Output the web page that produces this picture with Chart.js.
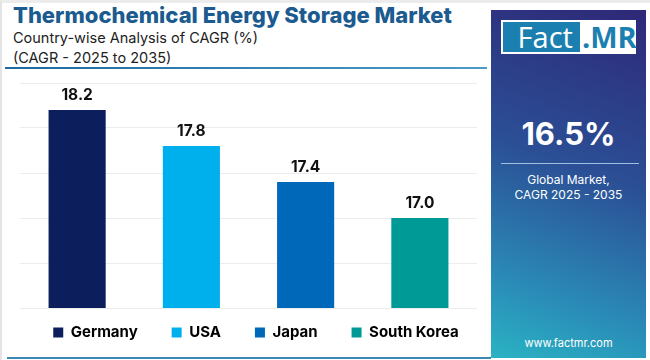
<!DOCTYPE html>
<html>
<head>
<meta charset="utf-8">
<script src="https://cdn.jsdelivr.net/npm/chart.js@4"></script>
<style>
  html, body { margin: 0; padding: 0; }
  body { width: 650px; height: 360px; overflow: hidden; background: #fff; position: relative; font-family: Inter, "Noto Sans", sans-serif; }
  .frame { position: absolute; left: 0; top: 0; width: 648px; height: 357px; border-left: 2px solid #e4e4e4; border-top: 3px solid #ececec; }
  .bottomline { position: absolute; left: 7px; top: 357px; width: 484px; height: 2px; background: #3f86b5; }
  h1 { position: absolute; left: 13px; top: 2px; margin: 0; font-size: 22px; font-weight: 800; color: #1b5b8f; letter-spacing: 0; white-space: nowrap; }
  .sub { position: absolute; left: 13px; font-size: 14.5px; color: #222; white-space: nowrap; }
  .divider { position: absolute; left: 5px; top: 67px; width: 482px; height: 2px; background: linear-gradient(to right, #1d6aa0, #4d9ac8); }
  .panel { position: absolute; left: 491px; top: 10px; width: 155px; height: 348px; background: linear-gradient(200deg, #2e2878 0%, #2b4f95 45%, #2a8cb8 80%, #2ab3c3 100%); color: #fff; text-align: center; }
  .logo { position: absolute; left: 10px; top: 10px; width: 135px; height: 34px; background: #fff; }
  .logo .fact { position: absolute; left: 2px; top: 2px; width: 77px; height: 30px; background: #1b7fb0; color: #fff; font-size: 29px; line-height: 30px; font-family: "Open Sans", sans-serif; }
  .logo .mr { position: absolute; left: 81px; top: 2px; color: #1b7fb0; font-size: 29px; line-height: 30px; font-weight: 700; font-family: "Open Sans", sans-serif; }
  .big { position: absolute; left: 0; width: 155px; top: 105px; font-size: 31px; font-weight: 700; }
  .rule { position: absolute; left: 10px; top: 153px; width: 138px; height: 1px; background: #9fc1e0; }
  .small { position: absolute; left: 0; width: 155px; font-size: 12px; }
  #wrap { position: absolute; left: 0; top: 70px; width: 512px; height: 290px; }
</style>
</head>
<body>
<div class="frame"></div>
<h1>Thermochemical Energy Storage Market</h1>
<div class="sub" style="top:29px">Country-wise Analysis of CAGR (%)</div>
<div class="sub" style="top:49px">(CAGR - 2025 to 2035)</div>
<div class="divider"></div>
<div class="bottomline"></div>

<div class="panel">
  <div class="logo"><div class="fact">&nbsp;Fact</div><div class="mr">.MR</div></div>
  <div class="big">16.5%</div>
  <div class="rule"></div>
  <div class="small" style="top:162px">Global Market,</div>
  <div class="small" style="top:177px">CAGR 2025 - 2035</div>
  <div class="small" style="top:326px; font-size:11px">www.factmr.com</div>
</div>

<div id="wrap"><canvas id="grafica"></canvas></div>

<script>
// datos del gráfico
var paises = ['Germany', 'USA', 'Japan', 'South Korea'];
var cagr = [18.2, 17.8, 17.4, 17.0];
var colores = ['#0c1f5c', '#00b0ec', '#0068b8', '#009a96'];

// etiquetas de valor encima de cada barra
var etiquetas = {
    id: 'etiquetas',
    afterDatasetsDraw: function (chart) {
        var ctx = chart.ctx;
        var meta = chart.getDatasetMeta(0);
        ctx.save();
        ctx.font = 'bold 15.5px Inter, sans-serif';
        ctx.fillStyle = '#111';
        ctx.textAlign = 'center';
        ctx.textBaseline = 'middle';
        meta.data.forEach(function (bar, i) {
            ctx.fillText(cagr[i].toFixed(1), bar.x, bar.y - 15);
        });
        ctx.restore();
    }
};

// sube la leyenda para que quede pegada al gráfico
var subirLeyenda = {
    id: 'subirLeyenda',
    afterLayout: function (chart) {
        chart.legend.top -= 17;
        chart.legend.bottom -= 17;
    }
};

var ctx = document.getElementById('grafica').getContext('2d');
var myChart = new Chart(ctx, {
    type: 'bar',
    data: {
        labels: paises,
        datasets: [{
            data: cagr,
            backgroundColor: colores,
            borderWidth: 0,
            barPercentage: 0.5,
            categoryPercentage: 1
        }]
    },
    options: {
        responsive: true,
        maintainAspectRatio: false,
        animation: false,
        layout: { padding: { left: 0, right: 0, top: 13, bottom: 0 } },
        scales: {
            x: { display: false },
            y: {
                min: 16, max: 18.5,
                ticks: { display: false, stepSize: 0.5 },
                grid: { color: '#ececec', drawTicks: false },
                border: { display: false },
                afterFit: function (scale) { scale.width = 20; }
            },
            margenDer: {
                position: 'right',
                ticks: { display: false },
                grid: { display: false },
                border: { display: false },
                afterFit: function (scale) { scale.width = 35; }
            }
        },
        plugins: {
            tooltip: { enabled: false },
            legend: {
                position: 'bottom',
                maxHeight: 52,
                labels: {
                    boxWidth: 10,
                    boxHeight: 10,
                    padding: 34,
                    color: '#111',
                    font: { family: 'Inter, sans-serif', size: 15, weight: 'bold' },
                    generateLabels: function () {
                        return paises.map(function (p, i) {
                            return { text: p, fillStyle: colores[i], strokeStyle: colores[i], lineWidth: 0, index: i };
                        });
                    }
                }
            }
        }
    },
    plugins: [etiquetas, subirLeyenda]
});
</script>
</body>
</html>
